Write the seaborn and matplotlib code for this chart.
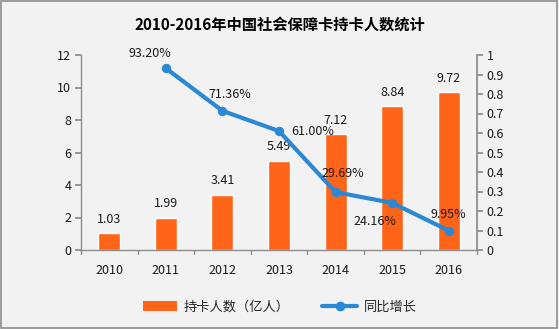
import matplotlib
matplotlib.use("Agg")
import matplotlib.pyplot as plt
import seaborn as sns
import pandas as pd
from matplotlib.lines import Line2D
from matplotlib.patches import Patch, Rectangle

years = ["2010", "2011", "2012", "2013", "2014", "2015", "2016"]
holders = [1.03, 1.99, 3.41, 5.49, 7.12, 8.84, 9.72]
growth_years = ["2011", "2012", "2013", "2014", "2015", "2016"]
growth = [0.9320, 0.7136, 0.6100, 0.2969, 0.2416, 0.0995]
growth_labels = ["93.20%", "71.36%", "61.00%", "29.69%", "24.16%", "9.95%"]
left_ticks = [0, 2, 4, 6, 8, 10, 12]
right_ticks = [0, 0.1, 0.2, 0.3, 0.4, 0.5, 0.6, 0.7, 0.8, 0.9, 1]
right_tick_labels = ["0", "0.1", "0.2", "0.3", "0.4", "0.5", "0.6", "0.7", "0.8", "0.9", "1"]
title = "2010-2016年中国社会保障卡持卡人数统计"
bar_name = "持卡人数（亿人）"
line_name = "同比增长"

sns.set_theme(style="white")
plt.rcParams["font.family"] = ["Noto Sans CJK SC", "DejaVu Sans"]

BG = "#f2f2f2"
ORANGE = "#ff6419"
BLUE = "#2b88d4"
TXT = "#1a1a1a"

fig = plt.figure(figsize=(5.59, 3.29), dpi=100, facecolor=BG)
fig.patches.append(Rectangle((0.002, 0.003), 0.995, 0.993, transform=fig.transFigure,
                             fill=False, edgecolor="#8c8c8c", linewidth=1.2))
ax = fig.add_axes([81 / 559, 1 - 250 / 329, 396 / 559, 195 / 329])
ax.set_facecolor("none")

df = pd.DataFrame({"year": years, "holders": holders})
sns.barplot(data=df, x="year", y="holders", color=ORANGE, width=0.39,
            saturation=1, ax=ax, order=years)
ax.set_xlim(-0.5, 6.5)
ax.set_ylim(0, 12)
ax.set_yticks(left_ticks)
ax.set_yticklabels([str(t) for t in left_ticks])
ax.set_xlabel("")
ax.set_ylabel("")

for i, v in enumerate(holders):
    ax.text(i, v + 0.45, f"{v:.2f}", ha="center", va="bottom", fontsize=9, color=TXT)

for s in ["top", "right"]:
    ax.spines[s].set_visible(False)
for s in ["left", "bottom"]:
    ax.spines[s].set_color("#8c8c8c")
    ax.spines[s].set_linewidth(1)
ax.tick_params(axis="y", direction="out", length=4, color="#8c8c8c", labelsize=9,
               labelcolor=TXT, left=True, pad=3)
ax.tick_params(axis="x", length=0, labelsize=9, labelcolor=TXT, pad=10)
for b in [x + 0.5 for x in range(-1, 7)]:
    ax.plot([b, b], [0, -0.25], color="#8c8c8c", lw=1, clip_on=False)

ax2 = ax.twinx()
gx = [years.index(y) for y in growth_years]
gdf = pd.DataFrame({"x": gx, "growth": growth})
sns.lineplot(data=gdf, x="x", y="growth", ax=ax2, color=BLUE, linewidth=3,
             marker="o", markersize=6, markeredgecolor=BLUE)
ax2.set_ylim(0, 1)
ax2.set_yticks(right_ticks)
ax2.set_yticklabels(right_tick_labels)
ax2.set_ylabel("")
ax2.set_xlabel("")
ax2.set_xlim(-0.5, 6.5)
for s in ["top", "left", "bottom"]:
    ax2.spines[s].set_visible(False)
ax2.spines["right"].set_color("#8c8c8c")
ax2.tick_params(axis="y", direction="out", length=4, color="#8c8c8c", labelsize=9,
                labelcolor=TXT, right=True, pad=3)

offsets = [(-0.28, 0.04, "center", "bottom"), (-0.25, 0.05, "left", "bottom"),
           (0.22, 0.0, "left", "center"), (0.12, 0.06, "center", "bottom"),
           (-0.3, -0.06, "center", "top"), (0.0, 0.05, "center", "bottom")]
for x, y, lab, (dx, dy, ha, va) in zip(gx, growth, growth_labels, offsets):
    ax2.text(x + dx, y + dy, lab, ha=ha, va=va, fontsize=9, color=TXT)

fig.text(0.5, 1 - 25 / 329, title, ha="center", va="center", fontsize=11,
         fontweight="bold", color="#000000")

handles = [Patch(facecolor=ORANGE, edgecolor="none"),
           Line2D([0], [0], color=BLUE, lw=3, marker="o", markersize=6)]
fig.legend(handles, [bar_name, line_name], loc="center", ncol=2,
           bbox_to_anchor=(0.5, 1 - 307 / 329), frameon=False, fontsize=9.5,
           handlelength=2.6, columnspacing=2.5, handletextpad=0.5)

fig.savefig("out.png", dpi=100, facecolor=BG)
